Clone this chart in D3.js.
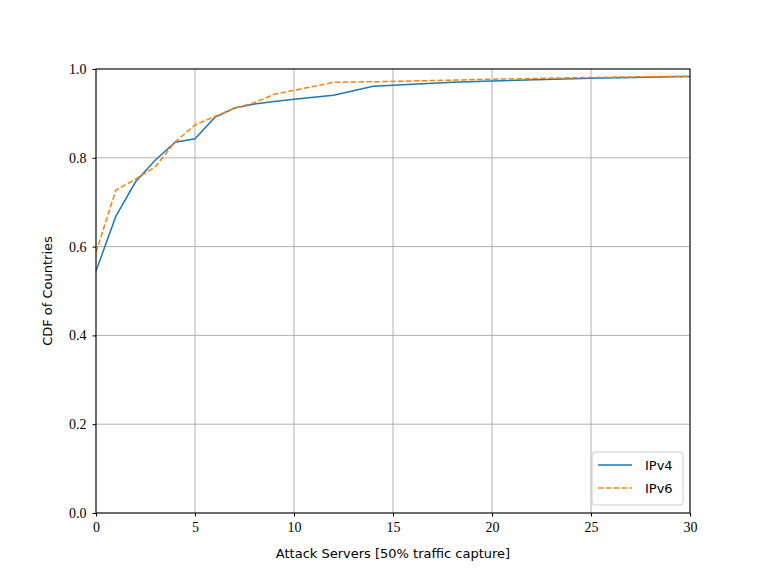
<!DOCTYPE html>
<html lang="en">
<head>
  <meta charset="UTF-8">
  <title>CDF of Countries - Attack Servers</title>
  <style>
    body { margin: 0; background: #fff; }
    svg { display: block; }
    .tick text { font-family: 'Liberation Serif', 'DejaVu Serif', serif; font-size: 14px; fill: #000; }
    .axis-label { font-family: 'DejaVu Sans', sans-serif; font-size: 13px; fill: #000; }
    .legend text { font-family: 'DejaVu Sans', sans-serif; font-size: 13px; fill: #000; }
  </style>
  <script src="https://d3js.org/d3.v7.min.js"></script>
</head>
<body>
  <svg></svg>
  <script>
    // values
    const ipv4X = [0, 1, 2, 3, 4, 5, 6, 7, 8, 9, 10, 12, 14, 18, 20, 25, 30];
    const ipv4Y = [0.545, 0.668, 0.746, 0.795, 0.835, 0.843, 0.891, 0.912, 0.921, 0.927, 0.932, 0.941, 0.961, 0.970, 0.973, 0.979, 0.983];
    const ipv6X = [0, 1, 2, 3, 4, 5, 6, 7, 8, 9, 10, 12, 15, 20, 25, 30];
    const ipv6Y = [0.587, 0.727, 0.752, 0.780, 0.836, 0.874, 0.893, 0.912, 0.924, 0.943, 0.952, 0.970, 0.972, 0.977, 0.981, 0.984];
    const xTicks = [0, 5, 10, 15, 20, 25, 30];
    const yTicks = [0.0, 0.2, 0.4, 0.6, 0.8, 1.0];

    const width = 768, height = 576;
    const margin = { top: 69, right: 78, bottom: 63, left: 96 };
    const svg = d3.select("svg").attr("width", width).attr("height", height);

    const x = d3.scaleLinear().domain([0, 30]).range([margin.left, width - margin.right]);
    const y = d3.scaleLinear().domain([0, 1]).range([height - margin.bottom, margin.top]);

    // grid
    svg.append("g")
      .selectAll("line")
      .data(xTicks)
      .join("line")
      .attr("x1", d => x(d)).attr("x2", d => x(d))
      .attr("y1", y(0)).attr("y2", y(1))
      .attr("stroke", "#b0b0b0").attr("stroke-width", 1);
    svg.append("g")
      .selectAll("line")
      .data(yTicks)
      .join("line")
      .attr("x1", x(0)).attr("x2", x(30))
      .attr("y1", d => y(d)).attr("y2", d => y(d))
      .attr("stroke", "#b0b0b0").attr("stroke-width", 1);

    // series
    const line = d3.line().x(d => x(d[0])).y(d => y(d[1]));
    svg.append("path")
      .datum(d3.zip(ipv4X, ipv4Y))
      .attr("d", line)
      .attr("fill", "none")
      .attr("stroke", "#1f77b4")
      .attr("stroke-width", 1.5);
    svg.append("path")
      .datum(d3.zip(ipv6X, ipv6Y))
      .attr("d", line)
      .attr("fill", "none")
      .attr("stroke", "#ff7f0e")
      .attr("stroke-width", 1.5)
      .attr("stroke-dasharray", "5.5,2.4");

    // axes
    const xAxis = svg.append("g")
      .attr("transform", `translate(0,${y(0)})`)
      .call(d3.axisBottom(x).tickValues(xTicks).tickSize(3.5).tickPadding(6).tickFormat(d3.format("d")));
    const yAxis = svg.append("g")
      .attr("transform", `translate(${x(0)},0)`)
      .call(d3.axisLeft(y).tickValues(yTicks).tickSize(3.5).tickPadding(6).tickFormat(d3.format(".1f")));
    [xAxis, yAxis].forEach(a => {
      a.select(".domain").remove();
      a.selectAll(".tick line").attr("stroke", "#000").attr("stroke-width", 1);
    });

    // frame
    svg.append("rect")
      .attr("x", x(0)).attr("y", y(1))
      .attr("width", x(30) - x(0)).attr("height", y(0) - y(1))
      .attr("fill", "none").attr("stroke", "#000").attr("stroke-width", 1);

    // labels
    svg.append("text")
      .attr("class", "axis-label")
      .attr("x", (x(0) + x(30)) / 2)
      .attr("y", 558)
      .attr("text-anchor", "middle")
      .text("Attack Servers [50% traffic capture]");
    svg.append("text")
      .attr("class", "axis-label")
      .attr("transform", `translate(52,${(y(0) + y(1)) / 2}) rotate(-90)`)
      .attr("text-anchor", "middle")
      .text("CDF of Countries");

    // legend
    const legend = svg.append("g").attr("class", "legend");
    legend.append("rect")
      .attr("x", 592).attr("y", 452).attr("width", 91).attr("height", 53)
      .attr("rx", 3)
      .attr("fill", "#fff").attr("fill-opacity", 0.8)
      .attr("stroke", "#ccc").attr("stroke-width", 1);
    const items = [
      { name: "IPv4", color: "#1f77b4", dash: null },
      { name: "IPv6", color: "#ff7f0e", dash: "5.5,2.4" }
    ];
    items.forEach((it, i) => {
      const ly = 465 + i * 23;
      legend.append("line")
        .attr("x1", 598).attr("x2", 632).attr("y1", ly).attr("y2", ly)
        .attr("stroke", it.color).attr("stroke-width", 1.5)
        .attr("stroke-dasharray", it.dash);
      legend.append("text")
        .attr("x", 645).attr("y", ly + 5)
        .text(it.name);
    });
  </script>
</body>
</html>
